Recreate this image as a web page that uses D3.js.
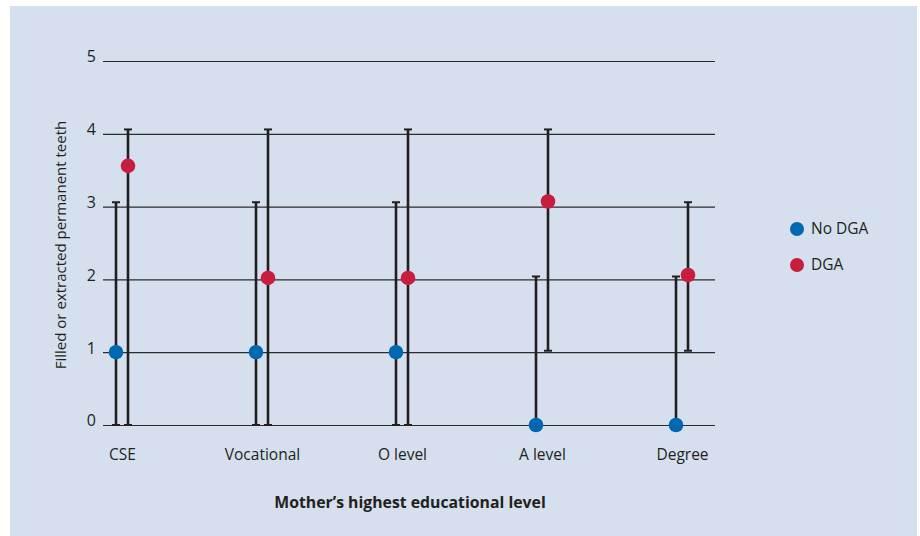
<!DOCTYPE html>
<html><head><meta charset="utf-8">
<script src="https://cdn.jsdelivr.net/npm/d3@7"></script>
<style>body{margin:0;background:#fff}svg{display:block}text{font-family:"Open Sans",sans-serif;fill:#231f20}</style>
</head><body><svg id="c" width="920" height="536"></svg>
<script>
const categories = ["CSE","Vocational","O level","A level","Degree"];
const seriesNames = ["No DGA","DGA"];
const noDgaValue = [1, 1, 1, 0, 0];
const noDgaLow   = [0, 0, 0, 0, 0];
const noDgaHigh  = [3.06, 3.06, 3.06, 2.04, 2.04];
const dgaValue   = [3.56, 2.02, 2.02, 3.07, 2.06];
const dgaLow     = [0, 0, 0, 1.02, 1.02];
const dgaHigh    = [4.06, 4.06, 4.06, 4.06, 3.06];
const yTicks = [0,1,2,3,4,5];
const colors = ["#0067b1","#c91d3e"];

const svg = d3.select("#c");
svg.append("rect").attr("x",10).attr("y",6).attr("width",907).attr("height",530).attr("fill","#d5dfee");

const y = d3.scaleLinear().domain([0,5]).range([425,61]);
const x = d3.scalePoint().domain(categories).range([122,682]);
const offs = [-6, 6];

const gy = svg.append("g").attr("transform","translate(103,0)")
  .call(d3.axisRight(y).tickValues(yTicks).tickSize(612).tickFormat(d3.format("d")));
gy.select(".domain").remove();
gy.selectAll(".tick line").attr("stroke","#2b2b2b").attr("stroke-width",1.2);
gy.selectAll(".tick text").attr("x",-7).attr("dy","0.05em").attr("text-anchor","end")
  .style("font-size","16px").attr("fill","#231f20");

const gx = svg.append("g").attr("transform","translate(0,425)")
  .call(d3.axisBottom(x).tickSize(0).tickPadding(24));
gx.select(".domain").remove();
gx.selectAll(".tick text").style("font-size","15.5px").attr("fill","#231f20");

const series = [
  {vals:noDgaValue, lo:noDgaLow, hi:noDgaHigh},
  {vals:dgaValue, lo:dgaLow, hi:dgaHigh}
];
series.forEach((s,si)=>{
  const g = svg.append("g");
  categories.forEach((c,i)=>{
    const cx = x(c)+offs[si];
    g.append("line").attr("x1",cx).attr("x2",cx).attr("y1",y(s.lo[i])).attr("y2",y(s.hi[i]))
      .attr("stroke","#231f20").attr("stroke-width",2.6);
    [s.lo[i], s.hi[i]].forEach(v=>{
      g.append("line").attr("x1",cx-4).attr("x2",cx+4).attr("y1",y(v)).attr("y2",y(v))
        .attr("stroke","#231f20").attr("stroke-width",2);
    });
  });
});
series.forEach((s,si)=>{
  svg.append("g").selectAll("circle").data(categories).join("circle")
    .attr("cx",(c)=>x(c)+offs[si]).attr("cy",(c,i)=>y(s.vals[i])).attr("r",7.3)
    .attr("fill",colors[si]);
});

svg.append("text").attr("transform","translate(66,245) rotate(-90)").attr("text-anchor","middle")
  .style("font-size","15px").text("Filled or extracted permanent teeth");
svg.append("text").attr("x",410).attr("y",508).attr("text-anchor","middle")
  .style("font-size","15.8px").style("font-weight","bold").text("Mother\u2019s highest educational level");

const lg = svg.append("g");
seriesNames.forEach((n,i)=>{
  lg.append("circle").attr("cx",797).attr("cy",229+i*36).attr("r",7).attr("fill",colors[i]);
  lg.append("text").attr("x",811).attr("y",229+i*36).attr("dy","0.35em").style("font-size","15.5px").text(n);
});
</script></body></html>
